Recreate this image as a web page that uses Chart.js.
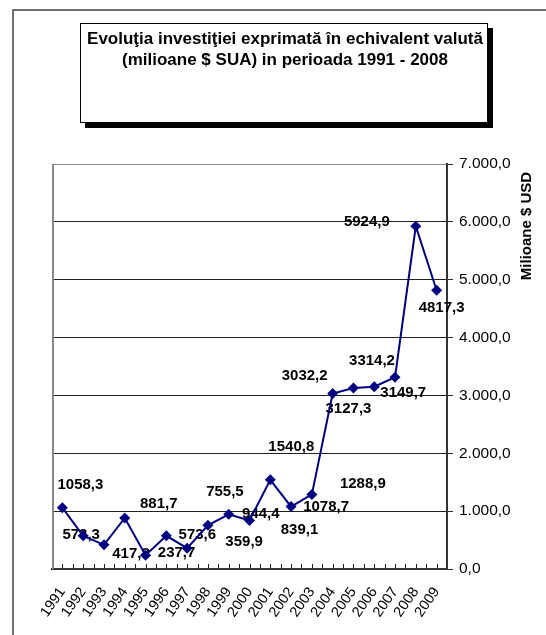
<!DOCTYPE html>
<html>
<head>
<meta charset="utf-8">
<script src="https://cdn.jsdelivr.net/npm/chart.js@4.4.0/dist/chart.umd.min.js"></script>
<style>
html, body { margin: 0; padding: 0; background: #fff; }
#wrap { width: 546px; height: 635px; }
</style>
</head>
<body>
<div id="wrap"><canvas id="grafic" width="546" height="635"></canvas></div>
<script>
// Datele graficului
const ani = ['1991', '1992', '1993', '1994', '1995', '1996', '1997', '1998', '1999', '2000',
             '2001', '2002', '2003', '2004', '2005', '2006', '2007', '2008', '2009'];
const investitii = [1058.3, 573.3, 417.8, 881.7, 237.7, 573.6, 359.9, 755.5, 944.4, 839.1,
                    1540.8, 1078.7, 1288.9, 3032.2, 3127.3, 3149.7, 3314.2, 5924.9, 4817.3];
const tickuriY = [0, 1000, 2000, 3000, 4000, 5000, 6000, 7000];
const titlu = ['Evoluţia investiţiei exprimată în echivalent valută',
               '(milioane $ SUA) in perioada 1991 - 2008'];
const titluAxa = 'Milioane $ USD';

// deplasarea etichetelor fata de puncte (dx, dy in px)
const deplasari = [[18, -23], [-2, -1], [27, 9], [34, -14], [31, -2], [31, -1], [57, -6],
                   [17, -33], [32, -1], [50, 9], [21, -33], [35, 0], [51, -11], [-28, -18],
                   [-5, 21], [29, 6], [-23, -16], [-49, -4], [5, 18]];

const FONT = 'Arial, "Liberation Sans", sans-serif';

// Format romanesc: 7.000,0
function formatRo(v) {
    const parts = v.toFixed(1).split('.');
    const intreg = parts[0].replace(/\B(?=(\d{3})+(?!\d))/g, '.');
    return intreg + ',' + parts[1];
}

// Fundal, chenar, titlu si etichete
const decor = {
    id: 'decor',
    beforeDraw(chart) {
        const ctx = chart.ctx;
        ctx.save();
        ctx.fillStyle = '#fff';
        ctx.fillRect(0, 0, chart.width, chart.height);

        // chenarul exterior
        ctx.strokeStyle = '#444';
        ctx.lineWidth = 1.5;
        ctx.beginPath();
        ctx.moveTo(13, chart.height);
        ctx.lineTo(13, 10);
        ctx.lineTo(chart.width, 10);
        ctx.stroke();

        // caseta titlului cu umbra
        ctx.fillStyle = '#000';
        ctx.fillRect(85, 28, 408, 100);
        ctx.fillStyle = '#fff';
        ctx.fillRect(80, 23, 408, 100);
        ctx.strokeStyle = '#000';
        ctx.lineWidth = 1;
        ctx.strokeRect(80.5, 23.5, 407, 99);

        ctx.fillStyle = '#000';
        ctx.font = 'bold 17px ' + FONT;
        ctx.textAlign = 'center';
        ctx.textBaseline = 'alphabetic';
        ctx.fillText(titlu[0], 285, 44);
        ctx.fillText(titlu[1], 285, 65);
        ctx.restore();
    },
    beforeDatasetsDraw(chart) {
        const ctx = chart.ctx;
        const meta = chart.getDatasetMeta(0);
        ctx.save();
        ctx.fillStyle = '#000';
        ctx.font = 'bold 15px ' + FONT;
        ctx.textAlign = 'center';
        ctx.textBaseline = 'middle';
        meta.data.forEach((pt, i) => {
            const txt = investitii[i].toFixed(1).replace('.', ',');
            ctx.fillText(txt, pt.x + deplasari[i][0], pt.y + deplasari[i][1]);
        });
        ctx.restore();
    },
    afterDraw(chart) {
        const ctx = chart.ctx;
        const a = chart.chartArea;
        ctx.save();
        // marginea stanga a zonei de desen
        ctx.strokeStyle = '#888';
        ctx.lineWidth = 2;
        ctx.beginPath();
        ctx.moveTo(a.left + 1, a.top);
        ctx.lineTo(a.left + 1, a.bottom);
        ctx.stroke();

        // gradatii mici pe axa X
        ctx.strokeStyle = '#222';
        ctx.lineWidth = 1;
        const pas = (a.right - a.left) / (ani.length * 2);
        ctx.beginPath();
        for (let i = 1; i < ani.length * 2; i++) {
            const x = Math.round(a.left + i * pas) + 0.5;
            ctx.moveTo(x, a.bottom);
            ctx.lineTo(x, a.bottom - 5);
        }
        ctx.stroke();

        // titlul axei Y
        ctx.fillStyle = '#000';
        ctx.font = 'bold 15px ' + FONT;
        ctx.textAlign = 'center';
        ctx.textBaseline = 'middle';
        ctx.translate(527, 226);
        ctx.rotate(-Math.PI / 2);
        ctx.fillText(titluAxa, 0, 0);
        ctx.restore();
    }
};

const ctx = document.getElementById('grafic').getContext('2d');
const chart = new Chart(ctx, {
    type: 'line',
    data: {
        labels: ani,
        datasets: [{
            data: investitii,
            borderColor: '#000080',
            borderWidth: 2,
            backgroundColor: '#000080',
            pointStyle: 'rectRot',
            pointRadius: 5.5,
            pointBackgroundColor: '#000080',
            pointBorderColor: '#000080',
            pointBorderWidth: 0,
            tension: 0,
            fill: false
        }]
    },
    options: {
        responsive: false,
        animation: false,
        layout: { padding: { left: 52, top: 164, right: 0, bottom: 0 } },
        plugins: {
            legend: { display: false },
            tooltip: { enabled: false },
            title: { display: false }
        },
        scales: {
            x: {
                offset: true,
                grid: { display: false, drawTicks: false },
                border: { display: true, color: '#333', width: 2 },
                ticks: {
                    autoSkip: false,
                    maxRotation: 55,
                    minRotation: 55,
                    padding: 15,
                    color: '#000',
                    font: { family: FONT, size: 14.5 }
                },
                afterFit: s => { s.height = 66; }
            },
            y: {
                position: 'right',
                min: 0,
                max: 7000,
                afterBuildTicks: s => { s.ticks = tickuriY.map(v => ({ value: v })); },
                grid: {
                    color: c => (c.tick && c.tick.value === 7000) ? '#888' : '#222',
                    lineWidth: 1,
                    drawTicks: true,
                    tickLength: 6,
                    tickColor: '#333'
                },
                border: { display: true, color: '#333', width: 2 },
                ticks: {
                    padding: 6,
                    color: '#000',
                    font: { family: FONT, size: 15.5 },
                    callback: v => formatRo(v)
                },
                afterFit: s => { s.width = 99; }
            }
        }
    },
    plugins: [decor]
});
</script>
</body>
</html>
